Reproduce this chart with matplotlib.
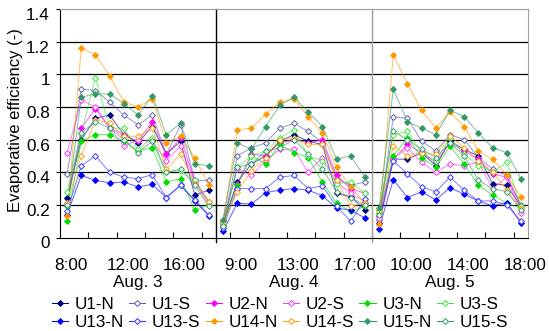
import numpy as np
import matplotlib
matplotlib.use('Agg')
import matplotlib.pyplot as plt
import matplotlib.transforms as mtransforms
from matplotlib.ticker import FixedLocator

plt.rcParams['font.family'] = ['Liberation Sans', 'DejaVu Sans']

# hourly points 8:00-18:00 on three days
days = ['Aug. 3', 'Aug. 4', 'Aug. 5']
hours = ['8:00', '9:00', '10:00', '11:00', '12:00', '13:00',
         '14:00', '15:00', '16:00', '17:00', '18:00']

series_names = ['U1-N', 'U1-S', 'U2-N', 'U2-S', 'U3-N', 'U3-S',
                'U13-N', 'U13-S', 'U14-N', 'U14-S', 'U15-N', 'U15-S']

u1_n = [[0.24, 0.60, 0.73, 0.75, 0.63, 0.58, 0.68, 0.51, 0.59, 0.26, 0.29],
        [0.08, 0.34, 0.45, 0.50, 0.59, 0.63, 0.59, 0.57, 0.27, 0.25, 0.17],
        [0.09, 0.48, 0.48, 0.52, 0.44, 0.59, 0.54, 0.50, 0.33, 0.32, 0.19]]
u1_s = [[0.39, 0.91, 0.90, 0.83, 0.75, 0.69, 0.75, 0.51, 0.69, 0.35, 0.35],
        [0.07, 0.50, 0.55, 0.58, 0.67, 0.70, 0.65, 0.58, 0.36, 0.32, 0.34],
        [0.11, 0.74, 0.73, 0.59, 0.53, 0.63, 0.60, 0.49, 0.42, 0.38, 0.20]]
u2_n = [[0.21, 0.67, 0.79, 0.67, 0.63, 0.59, 0.71, 0.51, 0.61, 0.35, 0.22],
        [0.10, 0.33, 0.51, 0.50, 0.58, 0.60, 0.58, 0.60, 0.38, 0.30, 0.27],
        [0.13, 0.48, 0.57, 0.52, 0.46, 0.58, 0.53, 0.48, 0.39, 0.37, 0.19]]
u2_s = [[0.52, 0.84, 0.80, 0.67, 0.56, 0.60, 0.59, 0.47, 0.56, 0.34, 0.20],
        [0.11, 0.42, 0.38, 0.47, 0.54, 0.54, 0.40, 0.49, 0.34, 0.27, 0.22],
        [0.12, 0.48, 0.55, 0.46, 0.40, 0.45, 0.44, 0.46, 0.30, 0.37, 0.15]]
u3_n = [[0.10, 0.59, 0.63, 0.63, 0.59, 0.53, 0.55, 0.34, 0.36, 0.17, 0.20],
        [0.09, 0.32, 0.50, 0.45, 0.57, 0.52, 0.49, 0.34, 0.21, 0.16, 0.19],
        [0.15, 0.50, 0.61, 0.49, 0.43, 0.56, 0.45, 0.32, 0.26, 0.21, 0.18]]
u3_s = [[0.28, 0.64, 0.98, 0.67, 0.67, 0.54, 0.61, 0.40, 0.41, 0.35, 0.22],
        [0.08, 0.43, 0.50, 0.53, 0.61, 0.66, 0.50, 0.47, 0.33, 0.34, 0.27],
        [0.17, 0.63, 0.65, 0.52, 0.47, 0.61, 0.51, 0.44, 0.40, 0.46, 0.19]]
u13_n = [[0.14, 0.38, 0.35, 0.335, 0.34, 0.31, 0.325, 0.245, 0.32, 0.225, 0.13],
         [0.04, 0.21, 0.205, 0.275, 0.29, 0.30, 0.29, 0.255, 0.18, 0.167, 0.12],
         [0.055, 0.355, 0.245, 0.28, 0.23, 0.306, 0.265, 0.224, 0.194, 0.214, 0.09]]
u13_s = [[0.16, 0.44, 0.50, 0.40, 0.37, 0.36, 0.385, 0.245, 0.32, 0.23, 0.14],
         [0.06, 0.30, 0.30, 0.30, 0.37, 0.38, 0.30, 0.316, 0.19, 0.10, 0.235],
         [0.08, 0.47, 0.39, 0.31, 0.28, 0.37, 0.29, 0.224, 0.224, 0.20, 0.10]]
u14_n = [[0.13, 1.16, 1.12, 0.99, 0.83, 0.80, 0.85, 0.58, 0.62, 0.49, 0.32],
         [0.10, 0.66, 0.67, 0.755, 0.83, 0.85, 0.74, 0.64, 0.43, 0.31, 0.21],
         [0.08, 1.12, 0.94, 0.78, 0.67, 0.77, 0.68, 0.53, 0.48, 0.38, 0.25]]
u14_s = [[0.21, 0.50, 0.72, 0.70, 0.62, 0.62, 0.67, 0.42, 0.51, 0.33, 0.22],
         [0.09, 0.28, 0.41, 0.49, 0.60, 0.61, 0.57, 0.57, 0.35, 0.19, 0.21],
         [0.16, 0.56, 0.50, 0.52, 0.51, 0.62, 0.55, 0.47, 0.40, 0.29, 0.18]]
u15_n = [[0.19, 0.86, 0.88, 0.88, 0.82, 0.75, 0.87, 0.63, 0.70, 0.45, 0.44],
         [0.11, 0.58, 0.54, 0.68, 0.81, 0.86, 0.77, 0.68, 0.48, 0.50, 0.37],
         [0.18, 0.91, 0.71, 0.67, 0.63, 0.78, 0.74, 0.64, 0.55, 0.52, 0.36]]
u15_s = [[0.20, 0.64, 0.71, 0.67, 0.60, 0.52, 0.59, 0.40, 0.42, 0.32, 0.19],
         [0.07, 0.43, 0.45, 0.53, 0.55, 0.60, 0.51, 0.42, 0.28, 0.245, 0.20],
         [0.14, 0.65, 0.60, 0.54, 0.49, 0.58, 0.50, 0.35, 0.30, 0.28, 0.17]]

all_data = [u1_n, u1_s, u2_n, u2_s, u3_n, u3_s,
            u13_n, u13_s, u14_n, u14_s, u15_n, u15_s]
colors = ['#000080', '#5c5ca8', '#ff00ff', '#ff33ff', '#00e000', '#33ee33',
          '#0000ff', '#3333ff', '#ff9900', '#ff9900', '#339966', '#339966']

fig = plt.figure(figsize=(5.49, 3.31), dpi=100)
ax = fig.add_axes([60 / 549, 1 - 237.5 / 331, 468 / 549, 228.5 / 331])

n = len(hours)
handles = []
for name, data, c in zip(series_names, all_data, colors):
    filled = name.endswith('-N')
    for d in range(len(days)):
        x = np.arange(n) + d * n
        ax.plot(x, data[d], color=c, lw=0.75, alpha=0.6, zorder=3)
        ax.plot(x, data[d], ls='none', marker='D', ms=3.0,
                mfc=c if filled else 'white', mec=c, mew=0.7, zorder=4)
    h, = ax.plot([], [], color=c, lw=0.75, marker='D', ms=3.0,
                 mfc=c if filled else 'white', mec=c, mew=0.7)
    handles.append(h)

total = n * len(days)
ax.set_xlim(-0.5, total - 0.5)
ax.set_ylim(0, 1.4)

# y axis
ax.yaxis.set_major_locator(FixedLocator(np.arange(0, 1.41, 0.2)))
ax.set_yticklabels(['0', '0.2', '0.4', '0.6', '0.8', '1', '1.2', '1.4'])
ax.tick_params(axis='y', length=3, width=0.8, direction='out', pad=4.3,
               labelsize=12.3)
off = mtransforms.ScaledTranslation(0, -5 / 100, fig.dpi_scale_trans)
for lbl in ax.get_yticklabels():
    lbl.set_transform(lbl.get_transform() + off)
for yv in np.arange(0.2, 1.21, 0.2):
    ax.axhline(yv, color='black', lw=0.9, zorder=1)
ax.set_ylabel('Evaporative efficiency (-)', fontsize=12.0)
ax.yaxis.set_label_coords(-0.08, 0.514)

# x axis: category labels every 4 points, tick marks every 2
lab_pos = list(range(0, total, 4))
hour_labels = [hours[p % n] for p in lab_pos]
ax.xaxis.set_major_locator(FixedLocator(lab_pos))
ax.set_xticklabels(hour_labels)
ax.xaxis.set_minor_locator(FixedLocator(np.arange(-0.5, total, 2)))
ax.tick_params(axis='x', which='major', length=0, pad=15, labelsize=12.3)
ax.tick_params(axis='x', which='minor', length=4, direction='in', width=0.8)
offx = mtransforms.ScaledTranslation(4 / 100, 0, fig.dpi_scale_trans)
for lbl in ax.get_xticklabels():
    lbl.set_transform(lbl.get_transform() + offx)

trans = mtransforms.blended_transform_factory(ax.transData, ax.transAxes)
for d, day in enumerate(days):
    ax.text(d * n + (n - 1) / 2, -0.197, day, transform=trans,
            ha='center', va='center', fontsize=12.3)

# day separators
ax.plot([n - 0.5, n - 0.5], [-0.02, 1], color='black', lw=1,
        transform=trans, clip_on=False, zorder=2)
ax.plot([2 * n - 0.5, 2 * n - 0.5], [-0.02, 1], color='#a0a0a0', lw=1,
        transform=trans, clip_on=False, zorder=2)

for s in ['top', 'right']:
    ax.spines[s].set_color('#a0a0a0')
for s in ['left', 'bottom']:
    ax.spines[s].set_color('black')

# legend, 2 rows x 6 columns (matplotlib fills column-wise)
order = []
for i in range(6):
    order += [i, i + 6]
fig.legend([handles[i] for i in order], [series_names[i] for i in order],
           ncol=6, loc='center', bbox_to_anchor=(280 / 549, 1 - 313.5 / 331),
           frameon=False, fontsize=12.3, handlelength=0.94, handletextpad=0.4,
           columnspacing=0.3, labelspacing=0.12, borderpad=0, borderaxespad=0)

fig.savefig('out.png', dpi=100)
